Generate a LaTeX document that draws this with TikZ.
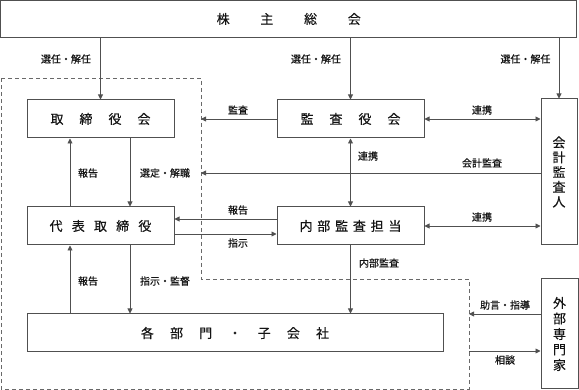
\documentclass[tikz,border=0pt]{standalone}
\usepackage{fontspec}
\setmainfont{Noto Sans CJK JP}[FakeBold=0.35]
\newfontfamily\labfont{Noto Sans CJK JP}[FakeBold=0.6]
\usetikzlibrary{arrows.meta}
\definecolor{linecol}{RGB}{80,80,80}
\definecolor{dashcol}{RGB}{105,105,105}
\definecolor{txtcol}{RGB}{20,20,20}
\begin{document}
\begin{tikzpicture}[x=1pt,y=-1pt,
 box/.style={draw=linecol, line width=1pt, inner sep=0pt, text=txtcol, font=\fontsize{13}{15}\selectfont},
 vbox/.style={box, align=center, font=\fontsize{13}{14.8}\selectfont},
 lab/.style={inner sep=0pt, text=txtcol, font=\labfont\fontsize{10}{12}\selectfont},
 arr/.style={draw=linecol, line width=0.9pt, -{Triangle[length=5pt,width=5pt]}},
 darr/.style={draw=linecol, line width=0.9pt, {Triangle[length=5pt,width=5pt]}-{Triangle[length=5pt,width=5pt]}},
 dashline/.style={draw=dashcol, line width=0.9pt, dash pattern=on 4pt off 3pt},
]
\useasboundingbox (0,0) rectangle (579,390);

% boxes
\node[box, minimum width=576pt, minimum height=37pt] (kabu) at (288.75,19)
  {株\hspace{30.7pt}主\hspace{30.7pt}総\hspace{30.7pt}会};
\node[box, minimum width=147pt, minimum height=38pt] (tori) at (100.5,119)
  {取\hspace{16pt}締\hspace{16pt}役\hspace{16pt}会};
\node[box, minimum width=147pt, minimum height=38pt] (dai) at (100.5,226)
  {代\hspace{9.2pt}表\hspace{9.2pt}取\hspace{9.2pt}締\hspace{9.2pt}役};
\node[box, minimum width=416pt, minimum height=38pt] (kakubu) at (235,333)
  {各\hspace{16.2pt}部\hspace{16.2pt}門\hspace{16.2pt}・\hspace{16.2pt}子\hspace{16.2pt}会\hspace{16.2pt}社};
\node[box, minimum width=147pt, minimum height=38pt] (kansa) at (350.5,119)
  {監\hspace{16pt}査\hspace{16pt}役\hspace{16pt}会};
\node[box, minimum width=147pt, minimum height=38pt] (naibu) at (350.5,226)
  {内\hspace{4.8pt}部\hspace{4.8pt}監\hspace{4.8pt}査\hspace{4.8pt}担\hspace{4.8pt}当};
\node[vbox, minimum width=36pt, minimum height=146pt] (kaikei) at (559,172)
  {会\\計\\監\\査\\人};
\node[vbox, minimum width=37pt, minimum height=110pt, font=\fontsize{13}{15.5}\selectfont] (gaibu) at (559.5,334)
  {外\\部\\専\\門\\家};

% dashed boundary
\coordinate (dA) at (201,78);
\coordinate (dB) at (469,279);
\draw[dashline] (1,78) -- (dA) -- (201,279) -- (dB) -- (469,389) -- (1,389) -- cycle;

% helper coordinates
\coordinate (xl) at ([xshift=-30.5pt]tori.south);
\coordinate (xr) at ([xshift=29.5pt]tori.south);
\coordinate (k1) at ([yshift=-1pt]kaikei.west);
\coordinate (n1) at ([yshift=7pt]naibu.west);
\coordinate (n2) at ([yshift=-8pt]naibu.west);
\coordinate (g1) at ([yshift=20pt]gaibu.west);
\coordinate (g2) at ([yshift=-17pt]gaibu.west);

% connectors
\draw[arr] (kabu.south -| tori.north) -- (tori.north);
\draw[arr] (kabu.south -| kansa.north) -- (kansa.north);
\draw[arr] (kabu.south -| kaikei.north) -- (kaikei.north);
\draw[arr] (kansa.west) -- (kansa.west -| dA);
\draw[darr] (kansa.east) -- (kansa.east -| kaikei.west);
\draw[arr] (k1) -- (k1 -| dA);
\draw[arr] (xl |- dai.north) -- (xl);
\draw[arr] (xr) -- (xr |- dai.north);
\draw[arr] (xl |- kakubu.north) -- (xl |- dai.south);
\draw[arr] (xr |- dai.south) -- (xr |- kakubu.north);
\draw[darr] (kansa.south) -- (naibu.north);
\draw[arr] (naibu.south) -- (naibu.south |- kakubu.north);
\draw[arr] (n1) -- (n1 -| dai.east);
\draw[arr] (n2 -| dai.east) -- (n2);
\draw[darr] (naibu.east) -- (naibu.east -| kaikei.west);
\draw[arr] (g1) -- (g1 -| dB);
\draw[arr] (g2 -| dB) -- (g2);

% labels
\node[lab] (l1) at (66,59) {選任・解任};
\node[lab] (l2) at (316,59) {選任・解任};
\node[lab] (l3) at (525.5,59) {選任・解任};
\node[lab] (l4) at (238,110) {監査};
\node[lab] (l5) at (482,110) {連携};
\node[lab] (l6) at (88,173) {報告};
\node[lab] (l7) at (165,173) {選定・解職};
\node[lab] (l8) at (368,156) {連携};
\node[lab] (l9) at (482,163) {会計監査};
\node[lab] (l10) at (238,210) {報告};
\node[lab] (l11) at (238,243) {指示};
\node[lab] (l12) at (482,217) {連携};
\node[lab] (l13) at (88,281) {報告};
\node[lab] (l14) at (165,281) {指示・監督};
\node[lab] (l15) at (379,263) {内部監査};
\node[lab] (l16) at (505,305) {助言・指導};
\node[lab] (l17) at (505,360) {相談};
\end{tikzpicture}
\end{document}
